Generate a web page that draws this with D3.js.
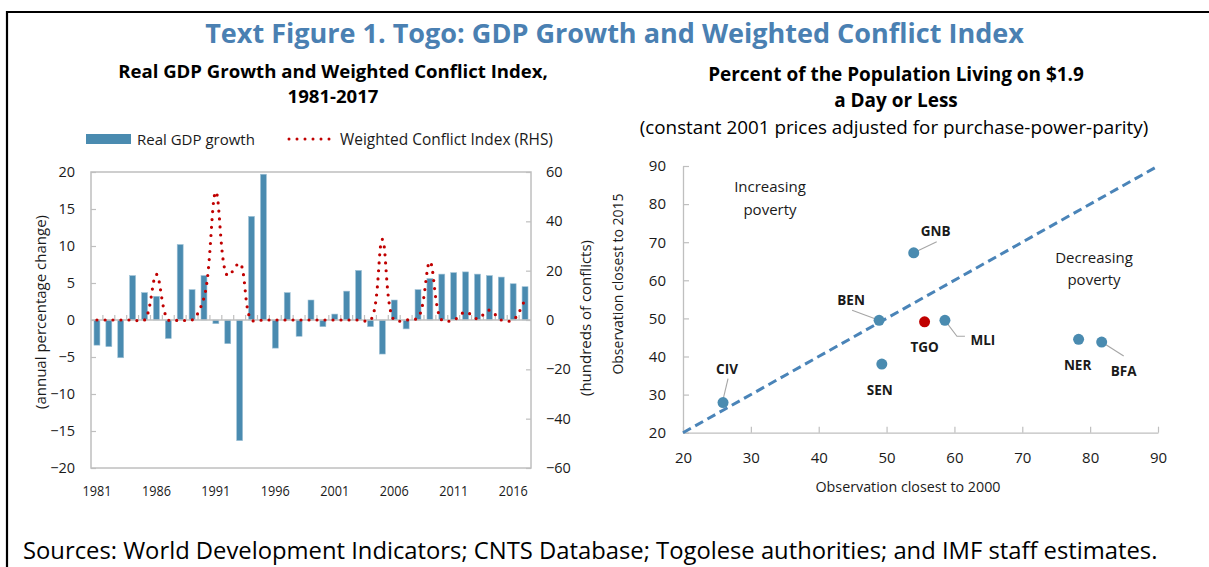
<!DOCTYPE html>
<html><head><meta charset="utf-8">
<script src="https://cdn.jsdelivr.net/npm/d3@7"></script>
<style>
body{margin:0;background:#fff}
svg{display:block}
text{font-family:'Open Sans','Noto Sans','DejaVu Sans',sans-serif;fill:#1a1a1a}
</style></head>
<body><svg id="c" width="1209" height="567"></svg>
<script>
// ---------- DATA ----------
const years = [1981,1982,1983,1984,1985,1986,1987,1988,1989,1990,1991,1992,1993,1994,1995,1996,1997,1998,1999,
  2000,2001,2002,2003,2004,2005,2006,2007,2008,2009,2010,2011,2012,2013,2014,2015,2016,2017];
const gdpGrowth = [-3.4,-3.6,-5.1,6.0,3.7,3.2,-2.5,10.2,4.1,6.0,-0.5,-3.2,-16.3,14.0,19.7,-3.8,3.7,-2.2,2.7,
  -0.9,0.8,3.9,6.7,-0.9,-4.6,2.7,-1.2,4.1,5.6,6.2,6.4,6.5,6.2,6.0,5.8,4.9,4.5];
const conflictIndex = [0,0,0,0,0,18.5,0,0,0,9,52,18,23,0,0,0,0,0,0,
  0,0,0,0,0,32.7,0,0,1,23.6,0,0,3.3,0.5,4,0,0,8.5];
const yearTickLabels = [1981,1986,1991,1996,2001,2006,2011,2016];
const leftTicks = [20,15,10,5,0,-5,-10,-15,-20];
const rightTicks = [60,40,20,0,-20,-40,-60];

const countries = ["CIV","BEN","GNB","SEN","TGO","MLI","NER","BFA"];
const obs2000 = [25.9,48.9,54.0,49.3,55.6,58.6,78.3,81.7];
const obs2015 = [27.9,49.5,67.2,38.0,49.1,49.5,44.5,43.8];
const scatterTicks = [20,30,40,50,60,70,80,90];

// ---------- STYLE / LAYOUT ----------
const BLUE = "#4a8bb0", RED = "#c00000", GRID = "#bfbfbf";
const labelLayout = { // offsets (px) of label centre from point, and leader geometry
  CIV:{dx:4,dy:-33,lead:[[5,-24],[0,-3]]},
  BEN:{dx:-28,dy:-20,lead:[[-27,-10],[0,0]]},
  GNB:{dx:22,dy:-22,lead:[[23,-11],[0,0]]},
  SEN:{dx:-2,dy:26},
  TGO:{dx:0,dy:25},
  MLI:{dx:38,dy:20,lead:[[0,0],[12,16],[20,16]]},
  NER:{dx:-1,dy:26},
  BFA:{dx:22,dy:29,lead:[[0,0],[22,14]]}
};

const svg = d3.select("#c");
function fit(sel, w){ const cur = sel.node().getComputedTextLength(); const fs = parseFloat(sel.attr("font-size")); sel.attr("font-size", (fs*w/cur).toFixed(2)); return sel; }

// outer frame
svg.append("path").attr("d","M7,567V12H1209").attr("fill","none").attr("stroke","#000").attr("stroke-width",2.2);

// titles
fit(svg.append("text").attr("x",614.5).attr("y",43).attr("text-anchor","middle").attr("font-size",25).attr("font-weight",700)
  .style("fill","#4a80b2").text("Text Figure 1. Togo: GDP Growth and Weighted Conflict Index"), 819);

const lt1 = svg.append("text").attr("x",333).attr("y",78).attr("text-anchor","middle").attr("font-size",17).attr("font-weight",700).style("fill","#000").text("Real GDP Growth and Weighted Conflict Index,");
fit(lt1, 430);
svg.append("text").attr("x",333).attr("y",103).attr("text-anchor","middle").attr("font-size",lt1.attr("font-size")).attr("font-weight",700).style("fill","#000").text("1981-2017");

const rt1 = svg.append("text").attr("x",896).attr("y",81).attr("text-anchor","middle").attr("font-size",17).attr("font-weight",700).style("fill","#000").text("Percent of the Population Living on $1.9");
fit(rt1, 376);
svg.append("text").attr("x",896).attr("y",107).attr("text-anchor","middle").attr("font-size",rt1.attr("font-size")).attr("font-weight",700).style("fill","#000").text("a Day or Less");
fit(svg.append("text").attr("x",894).attr("y",134).attr("text-anchor","middle").attr("font-size",17).style("fill","#000").text("(constant 2001 prices adjusted for purchase-power-parity)"), 509);

// sources
fit(svg.append("text").attr("x",23).attr("y",559).attr("font-size",21).style("fill","#000")
  .text("Sources: World Development Indicators; CNTS Database; Togolese authorities; and IMF staff estimates."), 1135);

// ---------- LEFT CHART ----------
const L = {x0:91, x1:531, y0:172, y1:468};
const x = d3.scaleBand().domain(years).range([L.x0, L.x1]).paddingInner(0.5).paddingOuter(0.25);
const yL = d3.scaleLinear().domain([-20,20]).range([L.y1, L.y0]);
const yR = d3.scaleLinear().domain([-60,60]).range([L.y1, L.y0]);
const bw = x.bandwidth();

// legend
svg.append("rect").attr("x",86).attr("y",134).attr("width",45).attr("height",10).attr("fill",BLUE);
fit(svg.append("text").attr("x",137).attr("y",144.5).attr("font-size",15).text("Real GDP growth"), 118);
svg.append("line").attr("x1",289).attr("x2",331).attr("y1",139).attr("y2",139).attr("stroke",RED).attr("stroke-width",3)
  .attr("stroke-linecap","round").attr("stroke-dasharray","0 8");
fit(svg.append("text").attr("x",340).attr("y",144.5).attr("font-size",15).text("Weighted Conflict Index (RHS)"), 213);

// frame
svg.append("rect").attr("x",L.x0).attr("y",L.y0).attr("width",L.x1-L.x0).attr("height",L.y1-L.y0)
  .attr("fill","none").attr("stroke",GRID).attr("stroke-width",1.5);

// axes
const axL = svg.append("g").attr("transform",`translate(${L.x0},0)`)
  .call(d3.axisLeft(yL).tickValues(leftTicks).tickSize(-5).tickPadding(16).tickFormat(d3.format("d")));
const axR = svg.append("g").attr("transform",`translate(${L.x1},0)`)
  .call(d3.axisRight(yR).tickValues(rightTicks).tickSize(-5).tickPadding(15).tickFormat(d3.format("d")));
[axL, axR].forEach(g=>{
  g.select(".domain").remove();
  g.selectAll(".tick line").attr("stroke",GRID).attr("stroke-width",1.2);
  g.selectAll(".tick text").attr("font-size",14.5).style("font-family","'Open Sans',sans-serif").attr("fill","#1a1a1a");
});

// bars
svg.append("g").selectAll("rect").data(years).join("rect")
  .attr("x",d=>x(d)).attr("width",bw)
  .attr("y",(d,i)=>yL(Math.max(0,gdpGrowth[i])))
  .attr("height",(d,i)=>Math.abs(yL(gdpGrowth[i])-yL(0)))
  .attr("fill",BLUE).attr("stroke","#9fc2d6").attr("stroke-width",0.6);

// zero axis with category ticks
svg.append("line").attr("x1",L.x0).attr("x2",L.x1).attr("y1",yL(0)).attr("y2",yL(0)).attr("stroke",GRID).attr("stroke-width",1.5);
svg.append("g").selectAll("line").data(years.slice(0,-1)).join("line")
  .attr("x1",d=>x(d)+bw/2+x.step()/2).attr("x2",d=>x(d)+bw/2+x.step()/2)
  .attr("y1",yL(0)).attr("y2",yL(0)-5).attr("stroke",GRID).attr("stroke-width",1.2);

// year labels
svg.append("g").selectAll("text").data(yearTickLabels).join("text")
  .attr("x",d=>x(d)+bw/2).attr("y",496).attr("text-anchor","middle").attr("font-size",14)
  .attr("textLength",29).attr("lengthAdjust","spacingAndGlyphs").text(d=>d);

// conflict line
const line = d3.line().x(d=>x(d[0])+bw/2).y(d=>yR(d[1])).curve(d3.curveCatmullRom.alpha(0.5));
svg.append("path").datum(years.map((y,i)=>[y,conflictIndex[i]])).attr("d",line)
  .attr("fill","none").attr("stroke",RED).attr("stroke-width",3.2).attr("stroke-linecap","round").attr("stroke-dasharray","0 8");

// axis titles
svg.append("text").attr("transform","translate(41,312) rotate(-90)").attr("text-anchor","middle").attr("dy","0.35em")
  .attr("font-size",15).text("(annual percentage change)");
svg.append("text").attr("transform","translate(586,318) rotate(-90)").attr("text-anchor","middle").attr("dy","0.35em")
  .attr("font-size",15).text("(hundreds of conflicts)");

// ---------- RIGHT CHART ----------
const S = {x0:683, x1:1158, y0:166, y1:432.7};
const xS = d3.scaleLinear().domain([20,90]).range([S.x0,S.x1]);
const yS = d3.scaleLinear().domain([20,90]).range([S.y1,S.y0]);

const axSY = svg.append("g").attr("transform",`translate(${S.x0},0)`)
  .call(d3.axisLeft(yS).tickValues(scatterTicks).tickSize(-6).tickSizeOuter(0).tickPadding(17));
const axSX = svg.append("g").attr("transform",`translate(0,${S.y1})`)
  .call(d3.axisBottom(xS).tickValues(scatterTicks).tickSize(-6).tickSizeOuter(0).tickPadding(20));
[axSY, axSX].forEach(g=>{
  g.select(".domain").attr("stroke",GRID).attr("stroke-width",1.3);
  g.selectAll(".tick line").attr("stroke",GRID).attr("stroke-width",1.2);
  g.selectAll(".tick text").attr("font-size",15).style("font-family","'Open Sans',sans-serif").attr("fill","#1a1a1a");
});

svg.append("text").attr("transform","translate(618,284) rotate(-90)").attr("text-anchor","middle").attr("dy","0.35em")
  .attr("font-size",14).text("Observation closest to 2015");
svg.append("text").attr("x",908).attr("y",492).attr("text-anchor","middle").attr("font-size",14)
  .attr("textLength",185).attr("lengthAdjust","spacingAndGlyphs").text("Observation closest to 2000");

// 45-degree line
svg.append("line").attr("x1",xS(20)).attr("y1",yS(20)).attr("x2",xS(90)).attr("y2",yS(90))
  .attr("stroke","#4a84b8").attr("stroke-width",3).attr("stroke-dasharray","9 5");

// annotations
[["Increasing",770,192],["poverty",770,215],["Decreasing",1094,263],["poverty",1094,285]].forEach(a=>{
  svg.append("text").attr("x",a[1]).attr("y",a[2]).attr("text-anchor","middle").attr("font-size",15).text(a[0]);
});

// leaders, points, labels
const pts = countries.map((c,i)=>({c, px:xS(obs2000[i]), py:yS(obs2015[i])}));
pts.forEach(p=>{
  const lay = labelLayout[p.c];
  if(lay.lead){
    svg.append("polyline").attr("points",lay.lead.map(q=>[p.px+q[0],p.py+q[1]].join(",")).join(" "))
      .attr("fill","none").attr("stroke","#a6a6a6").attr("stroke-width",1.1);
  }
});
svg.append("g").selectAll("circle").data(pts).join("circle")
  .attr("cx",d=>d.px).attr("cy",d=>d.py).attr("r",5.5)
  .attr("fill",d=>d.c==="TGO"?RED:BLUE);
svg.append("g").selectAll("text").data(pts).join("text")
  .attr("x",d=>d.px+labelLayout[d.c].dx).attr("y",d=>d.py+labelLayout[d.c].dy).attr("dy","0.35em")
  .attr("text-anchor","middle").attr("font-size",13.5).attr("font-weight",700).text(d=>d.c);
</script>
</body></html>
